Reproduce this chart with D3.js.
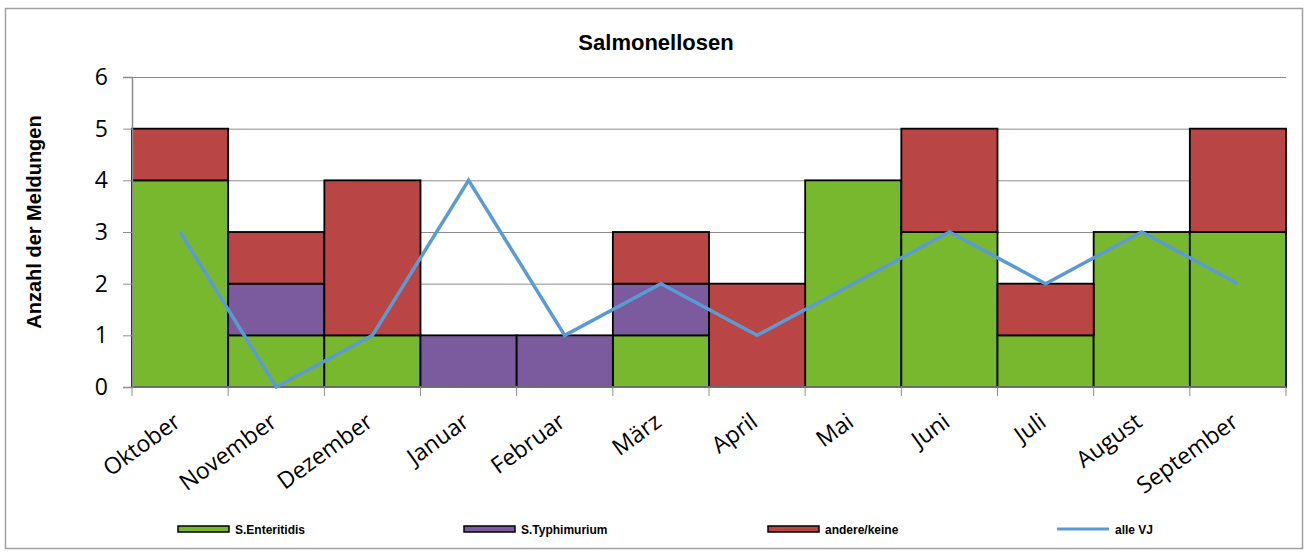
<!DOCTYPE html>
<html>
<head>
<meta charset="utf-8">
<script src="https://cdn.jsdelivr.net/npm/d3@7"></script>
<style>
  body { margin: 0; background: #fff; }
  svg { display: block; }
</style>
</head>
<body>
<svg width="1310" height="555"></svg>
<script>
const months = ['Oktober', 'November', 'Dezember', 'Januar', 'Februar', 'März', 'April', 'Mai', 'Juni', 'Juli', 'August', 'September']
const enteritidis = [4, 1, 1, 0, 0, 1, 0, 4, 3, 1, 3, 3]
const typhimurium = [0, 1, 0, 1, 1, 1, 0, 0, 0, 0, 0, 0]
const andere = [1, 1, 3, 0, 0, 1, 2, 0, 2, 1, 0, 2]
const alleVJ = [3, 0, 1, 4, 1, 2, 1, 2, 3, 2, 3, 2]
const yTicks = [0, 1, 2, 3, 4, 5, 6]

const seriesNames = ['S.Enteritidis', 'S.Typhimurium', 'andere/keine']
const seriesColors = ['#77b82f', '#7b5b9d', '#b94644']
const lineColor = '#5b9bd5'

const margin = { top: 77, right: 24, bottom: 168, left: 132 }
const width = 1310
const height = 555

const svg = d3.select('svg')

// outer frame
svg.append('rect')
  .attr('x', 5.5).attr('y', 8.5)
  .attr('width', 1297).attr('height', 540)
  .attr('fill', 'none')
  .attr('stroke', '#a0a0a0')
  .attr('stroke-width', 1.5)

const xScale = d3.scaleBand()
  .domain(months)
  .range([margin.left, width - margin.right])
  .padding(0)

const yScale = d3.scaleLinear()
  .domain([0, 6])
  .range([height - margin.bottom, margin.top])

// gridlines
svg.append('g')
  .selectAll('line')
  .data(yTicks.filter(d => d > 0))
  .enter().append('line')
  .attr('x1', margin.left)
  .attr('x2', width - margin.right)
  .attr('y1', d => yScale(d) + 0.5)
  .attr('y2', d => yScale(d) + 0.5)
  .attr('stroke', '#8c8c8c')
  .attr('stroke-width', 1)

// stacked data
const table = months.map((m, i) => ({
  month: m,
  'S.Enteritidis': enteritidis[i],
  'S.Typhimurium': typhimurium[i],
  'andere/keine': andere[i]
}))
const stacked = d3.stack().keys(seriesNames)(table)

svg.append('g')
  .selectAll('g')
  .data(stacked)
  .enter().append('g')
  .attr('fill', (d, i) => seriesColors[i])
  .selectAll('rect')
  .data(d => d.filter(v => v[1] - v[0] > 0))
  .enter().append('rect')
  .attr('x', d => xScale(d.data.month))
  .attr('y', d => yScale(d[1]))
  .attr('width', xScale.bandwidth())
  .attr('height', d => yScale(d[0]) - yScale(d[1]))
  .attr('stroke', '#000')
  .attr('stroke-width', 1.8)

// axes
const yAxis = d3.axisLeft(yScale)
  .tickValues(yTicks)
  .tickFormat(d3.format('d'))
  .tickSize(9)
  .tickPadding(15)

const gy = svg.append('g')
  .attr('transform', `translate(${margin.left},0)`)
  .call(yAxis)
gy.select('.domain').attr('stroke', '#8c8c8c').attr('stroke-width', 1.5)
gy.selectAll('.tick line').attr('stroke', '#8c8c8c')
gy.selectAll('text')
  .attr('font-family', 'Open Sans, sans-serif')
  .attr('font-size', 23)
  .attr('fill', '#000')

const xAxis = svg.append('g')
  .attr('transform', `translate(0,${yScale(0)})`)
xAxis.append('line')
  .attr('x1', margin.left).attr('x2', width - margin.right)
  .attr('stroke', '#8c8c8c').attr('stroke-width', 1.5)

// tick marks sit on the category boundaries
const bounds = months.map(m => xScale(m)).concat([xScale.range()[1]])
xAxis.selectAll('.tk')
  .data(bounds)
  .enter().append('line')
  .attr('class', 'tk')
  .attr('x1', d => d).attr('x2', d => d)
  .attr('y1', 0).attr('y2', 9)
  .attr('stroke', '#8c8c8c')

xAxis.selectAll('text')
  .data(months)
  .enter().append('text')
  .attr('transform', d => `translate(${xScale(d) + xScale.bandwidth() / 2 + 2},${38}) rotate(-36)`)
  .attr('text-anchor', 'end')
  .attr('font-family', 'Open Sans, sans-serif')
  .attr('font-size', 23)
  .attr('fill', '#000')
  .text(d => d)

// line
const line = d3.line()
  .x((d, i) => xScale(months[i]) + xScale.bandwidth() / 2)
  .y(d => yScale(d))

svg.append('path')
  .datum(alleVJ)
  .attr('d', line)
  .attr('fill', 'none')
  .attr('stroke', lineColor)
  .attr('stroke-width', 3.5)
  .attr('stroke-linejoin', 'miter')

// title
svg.append('text')
  .attr('x', 656).attr('y', 50)
  .attr('text-anchor', 'middle')
  .attr('font-family', 'Liberation Sans, Arial, sans-serif')
  .attr('font-weight', 'bold')
  .attr('font-size', 22)
  .text('Salmonellosen')

// y label
svg.append('text')
  .attr('transform', 'translate(41,222) rotate(-90)')
  .attr('text-anchor', 'middle')
  .attr('font-family', 'Liberation Sans, Arial, sans-serif')
  .attr('font-weight', 'bold')
  .attr('font-size', 20)
  .text('Anzahl der Meldungen')

// legend
const legendItems = [
  { name: 'S.Enteritidis', color: seriesColors[0], x: 178, type: 'bar' },
  { name: 'S.Typhimurium', color: seriesColors[1], x: 464, type: 'bar' },
  { name: 'andere/keine', color: seriesColors[2], x: 768, type: 'bar' },
  { name: 'alle VJ', color: lineColor, x: 1057, type: 'line' }
]
const legend = svg.append('g')
  .selectAll('g')
  .data(legendItems)
  .enter().append('g')
  .attr('transform', d => `translate(${d.x},529)`)

legend.filter(d => d.type === 'bar').append('rect')
  .attr('x', 0).attr('y', -3)
  .attr('width', 51).attr('height', 6)
  .attr('fill', d => d.color)
  .attr('stroke', '#000')
  .attr('stroke-width', 1.5)

legend.filter(d => d.type === 'line').append('line')
  .attr('x1', 0).attr('x2', 52)
  .attr('y1', 0).attr('y2', 0)
  .attr('stroke', d => d.color)
  .attr('stroke-width', 3)

legend.append('text')
  .attr('x', d => d.type === 'bar' ? 57 : 58)
  .attr('y', 4.5)
  .attr('font-family', 'Liberation Sans, Arial, sans-serif')
  .attr('font-weight', 'bold')
  .attr('font-size', 12)
  .text(d => d.name)
</script>
</body>
</html>
